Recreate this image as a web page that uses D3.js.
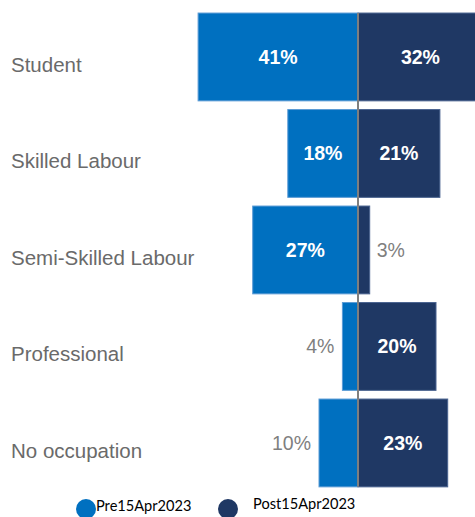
<!DOCTYPE html>
<html>
<head>
<meta charset="utf-8">
<script src="https://cdn.jsdelivr.net/npm/d3@7"></script>
<style>
  html, body { margin: 0; padding: 0; background: #fff; }
  svg { display: block; }
</style>
</head>
<body>
<svg id="chart" width="475" height="517"></svg>
<script>
const categories = ["Student", "Skilled Labour", "Semi-Skilled Labour", "Professional", "No occupation"];
const pre = [41, 18, 27, 4, 10];
const post = [32, 21, 3, 20, 23];
const seriesNames = ["Pre15Apr2023", "Post15Apr2023"];
const colors = ["#0070C0", "#1F3864"];
const strokes = ["#5B9BD5", "#4A6390"];

const svg = d3.select("#chart");
const cx = 358;

const x = d3.scaleLinear().domain([0, 50]).range([0, 195]);
const y = d3.scaleBand().domain(categories).range([8.7, 491.2]).paddingInner(0.09).paddingOuter(0.045);

const rows = categories.map((c, i) => ({ cat: c, pre: pre[i], post: post[i] }));

// pre bars (left)
svg.append("g").selectAll("rect").data(rows).join("rect")
  .attr("x", d => cx - x(d.pre))
  .attr("y", d => y(d.cat))
  .attr("width", d => x(d.pre))
  .attr("height", y.bandwidth())
  .attr("fill", colors[0])
  .attr("stroke", strokes[0])
  .attr("stroke-width", 1);

// post bars (right)
svg.append("g").selectAll("rect").data(rows).join("rect")
  .attr("x", cx)
  .attr("y", d => y(d.cat))
  .attr("width", d => x(d.post))
  .attr("height", y.bandwidth())
  .attr("fill", colors[1])
  .attr("stroke", strokes[1])
  .attr("stroke-width", 1);

// center line
svg.append("line")
  .attr("x1", cx).attr("x2", cx)
  .attr("y1", y(categories[0]))
  .attr("y2", y(categories[categories.length - 1]) + y.bandwidth())
  .attr("stroke", "#7f7f7f").attr("stroke-width", 2);

const inside = v => v >= 15;
const valFont = "'Liberation Sans', Arial, sans-serif";

// pre labels
svg.append("g").selectAll("text").data(rows).join("text")
  .attr("x", d => inside(d.pre) ? cx - x(d.pre) / 2 : cx - x(d.pre) - 8)
  .attr("y", d => y(d.cat) + y.bandwidth() / 2)
  .attr("dy", "0.36em")
  .attr("text-anchor", d => inside(d.pre) ? "middle" : "end")
  .attr("font-family", valFont)
  .attr("font-size", 19.5)
  .attr("font-weight", d => inside(d.pre) ? "bold" : "normal")
  .attr("fill", d => inside(d.pre) ? "#ffffff" : "#7f7f7f")
  .text(d => d.pre + "%");

// post labels
svg.append("g").selectAll("text").data(rows).join("text")
  .attr("x", d => inside(d.post) ? cx + x(d.post) / 2 : cx + x(d.post) + 7)
  .attr("y", d => y(d.cat) + y.bandwidth() / 2)
  .attr("dy", "0.36em")
  .attr("text-anchor", d => inside(d.post) ? "middle" : "start")
  .attr("font-family", valFont)
  .attr("font-size", 19.5)
  .attr("font-weight", d => inside(d.post) ? "bold" : "normal")
  .attr("fill", d => inside(d.post) ? "#ffffff" : "#7f7f7f")
  .text(d => d.post + "%");

// category labels
svg.append("g").selectAll("text").data(categories).join("text")
  .attr("x", 11)
  .attr("y", d => y(d) + y.bandwidth() / 2 + 15)
  .attr("font-family", valFont)
  .attr("font-size", 20.5)
  .attr("fill", "#6a6a6a")
  .text(d => d);

// legend
const legend = [
  { name: seriesNames[0], color: colors[0], cxp: 86, tx: 96, ty: 511 },
  { name: seriesNames[1], color: colors[1], cxp: 228, tx: 253, ty: 509 }
];
const lg = svg.append("g");
lg.selectAll("circle").data(legend).join("circle")
  .attr("cx", d => d.cxp).attr("cy", 509).attr("r", 10)
  .attr("fill", d => d.color);
lg.selectAll("text").data(legend).join("text")
  .attr("x", d => d.tx).attr("y", d => d.ty)
  .attr("font-family", "Lato, 'Liberation Sans', sans-serif")
  .attr("font-size", 14.6)
  .attr("fill", "#000")
  .text(d => d.name);
</script>
</body>
</html>
